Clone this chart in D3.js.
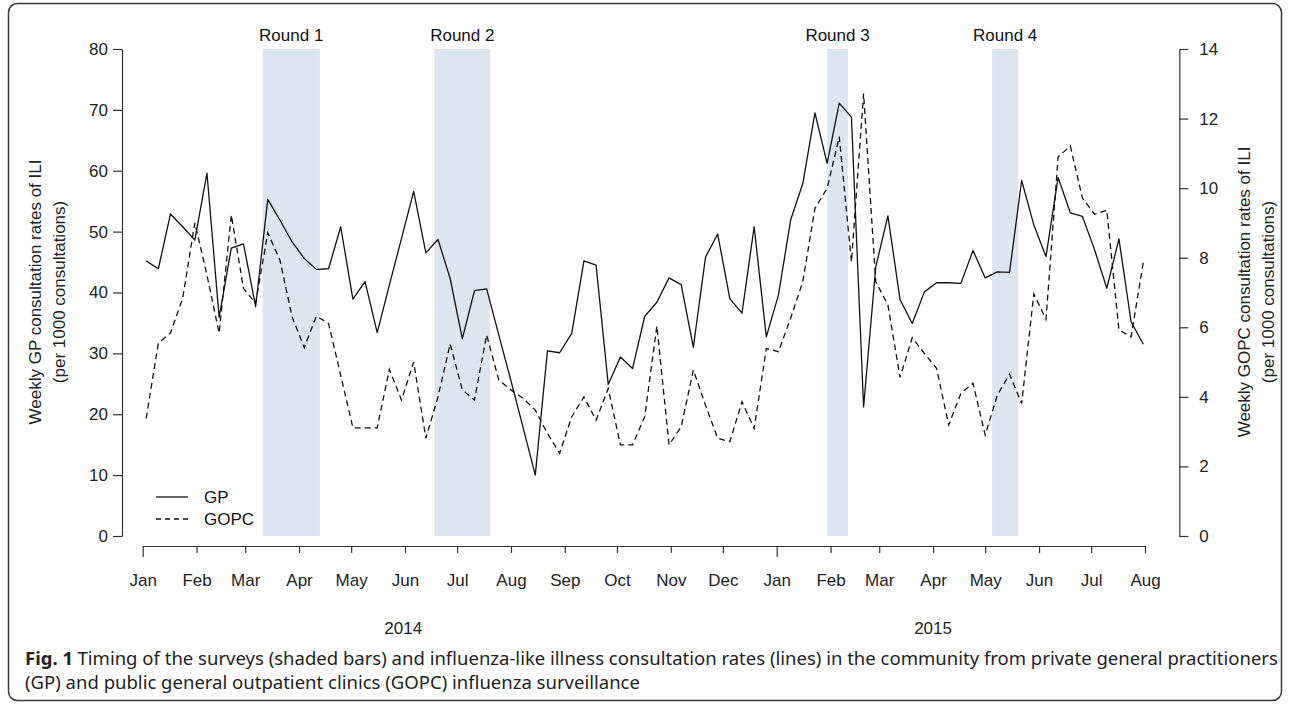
<!DOCTYPE html>
<html><head><meta charset="utf-8">
<script src="https://cdn.jsdelivr.net/npm/d3@7"></script>
<style>body{margin:0;background:#fff}</style>
</head><body>
<svg id="c" width="1290" height="704"></svg>
<script>
// ---- data ----
const firstWeek = "2014-01-03";
const gpValues = [45.2,43.9,52.9,50.8,48.6,59.6,35.9,47.3,48.0,37.7,55.3,51.9,48.3,45.6,43.8,43.9,50.8,38.9,41.8,33.4,
  41.2,48.9,56.6,46.5,48.7,42.3,32.4,40.3,40.6,33.0,25.5,17.8,10.0,30.4,30.1,33.3,45.2,44.5,24.9,29.4,
  27.5,36.1,38.4,42.4,41.3,31.0,45.8,49.6,39.0,36.6,50.8,32.7,39.6,51.9,57.9,69.5,61.2,71.1,68.8,21.2,
  44.2,52.6,38.8,34.9,40.1,41.6,41.6,41.5,46.9,42.4,43.4,43.3,58.4,51.1,45.9,58.9,53.1,52.5,47.0,40.7,
  48.8,35.2,31.5];
const gopcValues = [3.38,5.54,5.84,6.83,9.0,7.5,5.83,9.23,7.12,6.69,8.72,7.93,6.30,5.42,6.32,6.11,4.62,3.11,3.11,3.11,
  4.79,3.91,5.0,2.81,4.0,5.52,4.20,3.91,5.78,4.48,4.20,3.96,3.62,2.95,2.38,3.43,4.00,3.33,4.24,2.62,
  2.62,3.43,6.04,2.62,3.14,4.77,3.76,2.81,2.71,3.86,3.09,5.39,5.30,6.26,7.31,9.42,9.99,11.48,7.88,12.72,
  7.31,6.64,4.56,5.70,5.25,4.82,3.19,4.10,4.39,2.90,4.05,4.65,3.81,6.96,6.23,10.90,11.21,9.71,9.25,9.37,
  5.92,5.73,7.86];
const roundLabels = ["Round 1","Round 2","Round 3","Round 4"];
const roundStart = ["2014-03-11","2014-06-18","2015-01-30","2015-05-05"];
const roundEnd = ["2014-04-13","2014-07-20","2015-02-11","2015-05-20"];
const monthTicks = ["2014-01-01","2014-02-01","2014-03-01","2014-04-01","2014-05-01","2014-06-01","2014-07-01",
  "2014-08-01","2014-09-01","2014-10-01","2014-11-01","2014-12-01","2015-01-01","2015-02-01","2015-03-01",
  "2015-04-01","2015-05-01","2015-06-01","2015-07-01","2015-08-01"];
const leftTicks = [0,10,20,30,40,50,60,70,80];
const rightTicks = [0,2,4,6,8,10,12,14];
const yearLabels = ["2014","2015"];
const yearAnchors = ["2014-05-31","2015-04-01"];
const seriesNames = ["GP","GOPC"];
const leftTitle = ["Weekly GP consultation rates of ILI","(per 1000 consultations)"];
const rightTitle = ["Weekly GOPC consultation rates of ILI","(per 1000 consultations)"];
const captionBold = "Fig. 1";
const captionLine1 = "Timing of the surveys (shaded bars) and influenza-like illness consultation rates (lines) in the community from private general practitioners";
const captionLine2 = "(GP) and public general outpatient clinics (GOPC) influenza surveillance";

// ---- setup ----
const parse = d3.utcParse("%Y-%m-%d");
const svg = d3.select("#c");
const FONT = "'Liberation Sans', Arial, sans-serif";
const x = d3.scaleUtc().domain([parse("2014-01-01"), parse("2015-08-01")]).range([142.7, 1145]);
const yL = d3.scaleLinear().domain([0, 80]).range([536, 49]);
const yR = d3.scaleLinear().domain([0, 14]).range([536, 49]);
const start = parse(firstWeek);
const dates = gpValues.map((_, i) => d3.utcDay.offset(start, 7 * i));

// frame
svg.append("rect").attr("x", 8.5).attr("y", 3.5).attr("width", 1273).attr("height", 697)
  .attr("rx", 9).attr("fill", "none").attr("stroke", "#3a3a3a").attr("stroke-width", 1.5);

// shaded rounds
const rg = svg.append("g");
roundLabels.forEach((lab, i) => {
  const x0 = x(parse(roundStart[i])), x1 = x(parse(roundEnd[i]));
  rg.append("rect").attr("x", x0).attr("y", yL(80)).attr("width", x1 - x0).attr("height", yL(0) - yL(80))
    .attr("fill", "#dce6f0");
  rg.append("text").attr("x", (x0 + x1) / 2).attr("y", 41).attr("text-anchor", "middle")
    .attr("font-family", FONT).attr("font-size", 17).attr("fill", "#111").text(lab);
});

// lines
const lineGP = d3.line().x((d, i) => x(dates[i])).y(d => yL(d));
const lineGOPC = d3.line().x((d, i) => x(dates[i])).y(d => yR(d));
svg.append("path").attr("d", lineGP(gpValues)).attr("fill", "none").attr("stroke", "#111")
  .attr("stroke-width", 1.3).attr("stroke-linejoin", "round");
svg.append("path").attr("d", lineGOPC(gopcValues)).attr("fill", "none").attr("stroke", "#111")
  .attr("stroke-width", 1.3).attr("stroke-dasharray", "6,4");

// axes
function styleAxis(g) {
  g.selectAll("path,line").attr("stroke", "#333").attr("stroke-width", 1.2);
  g.selectAll("text").attr("font-family", FONT).attr("font-size", 17).attr("fill", "#222");
}
svg.append("g").attr("transform", "translate(122,0)")
  .call(d3.axisLeft(yL).tickValues(leftTicks).tickSize(9).tickSizeOuter(0).tickPadding(5))
  .call(styleAxis);
svg.append("g").attr("transform", "translate(1179.3,0)")
  .call(d3.axisRight(yR).tickValues(rightTicks).tickSize(9).tickSizeOuter(0).tickPadding(11))
  .call(styleAxis);
const xa = svg.append("g").attr("transform", "translate(0,546)")
  .call(d3.axisBottom(x).tickValues(monthTicks.map(parse)).tickFormat(d3.utcFormat("%b"))
    .tickSize(7).tickSizeOuter(0).tickPadding(21))
  .call(styleAxis);
xa.selectAll(".tick").filter(d => d.getUTCMonth() === 0).select("line").attr("y2", 11);

// year labels
yearLabels.forEach((t, i) => {
  svg.append("text").attr("x", x(parse(yearAnchors[i]))).attr("y", 634).attr("text-anchor", "middle")
    .attr("font-family", FONT).attr("font-size", 17).attr("fill", "#222").text(t);
});

// axis titles
function vtitle(cx, lines) {
  lines.forEach((t, i) => {
    svg.append("text").attr("transform", `translate(${cx[i]},292) rotate(-90)`)
      .attr("text-anchor", "middle").attr("dominant-baseline", "central")
      .attr("font-family", FONT).attr("font-size", 17).attr("fill", "#222").text(t);
  });
}
vtitle([35, 59], leftTitle);
vtitle([1244, 1268], rightTitle);

// legend
const lg = svg.append("g");
[false, true].forEach((dashed, i) => {
  const ly = i === 0 ? 497 : 519;
  lg.append("line").attr("x1", 156).attr("x2", 188).attr("y1", ly).attr("y2", ly)
    .attr("stroke", "#111").attr("stroke-width", 1.3).attr("stroke-dasharray", dashed ? "5,4" : null);
  lg.append("text").attr("x", 204).attr("y", ly).attr("dominant-baseline", "central")
    .attr("font-family", FONT).attr("font-size", 17).attr("fill", "#111").text(seriesNames[i]);
});

// caption (separate text elements so they do not overlap)
const CF = "'Noto Sans', 'Open Sans', sans-serif";
const capB = svg.append("text").attr("x", 25).attr("y", 665).attr("font-family", CF)
  .attr("font-weight", "bold").attr("font-size", 16).attr("fill", "#222").text(captionBold);
const cap1 = svg.append("text").attr("y", 665).attr("font-family", CF).attr("font-size", 16)
  .attr("fill", "#222").text(captionLine1);
const gap = 4.5;
const wB = capB.node().getComputedTextLength();
const w1 = cap1.node().getComputedTextLength();
const fs = 16 * (1279 - 25 - gap) / (wB + w1);
capB.attr("font-size", fs);
cap1.attr("font-size", fs);
const wB2 = capB.node().getComputedTextLength();
cap1.attr("x", 25 + wB2 + gap);
svg.append("text").attr("x", 25).attr("y", 689).attr("font-family", CF).attr("font-size", fs)
  .attr("fill", "#222").text(captionLine2);
</script>
</body></html>
